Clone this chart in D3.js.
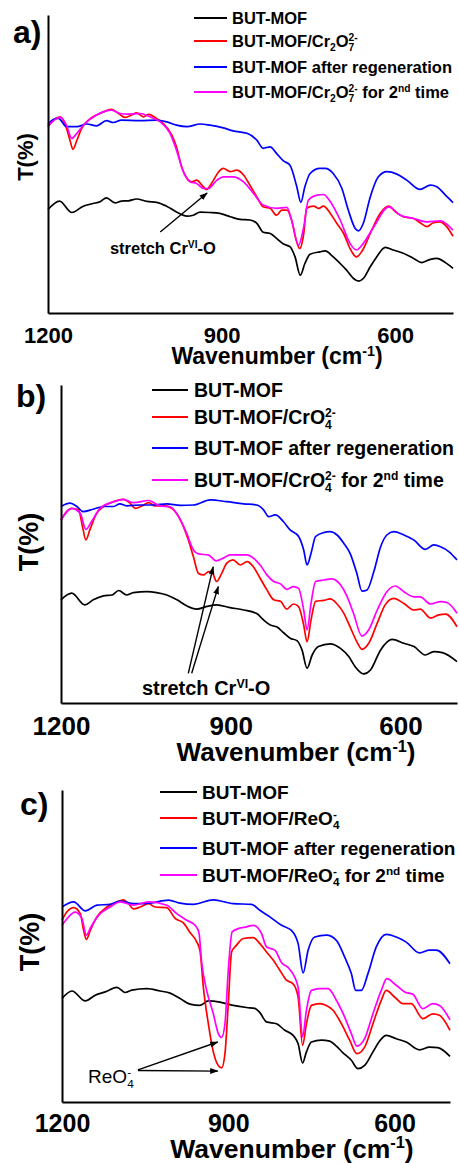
<!DOCTYPE html>
<html>
<head>
<meta charset="utf-8">
<script src="https://cdn.jsdelivr.net/npm/d3@7"></script>
<style>
  body { margin: 0; background: #fff; }
  svg { display: block; }
  text { font-family: "Liberation Sans", Arial, sans-serif; font-weight: bold; fill: #000; }
</style>
</head>
<body>
<svg width="459" height="1163"></svg>
<script>
// tick labels of the wavenumber axis
var wavenumberTicks = [1200, 900, 600];
var seriesColors = ["#000000", "#ff0000", "#0000ff", "#ff00ff"];

// panel a) - Cr2O7(2-)
var aButMof = [[1200,34.5],[1180,37.3],[1159,33.5],[1139,35.6],[1122,36.5],[1110,37.1],[1099,38.4],[1084,36.7],[1073,37.3],[1061,37.4],[1047,38.0],[1029,37.2],[1012,36.9],[995,35.6],[978,33.7],[960,32.3],[949,32.6],[937,33.6],[920,33.5],[903,33.2],[885,32.1],[868,31.2],[851,31.0],[839,29.9],[828,26.9],[816,26.5],[805,24.9],[793,23.0],[782,22.1],[773,18.7],[764,12.6],[756,16.5],[747,19.6],[730,20.4],[721,20.7],[707,18.7],[695,16.5],[684,14.3],[672,11.5],[663,10.6],[655,11.5],[643,15.4],[632,18.7],[617,21.9],[603,21.0],[586,19.9],[568,18.2],[554,16.8],[539,17.9],[528,18.2],[513,16.8],[500,14.9]];
var aLoaded = [[1200,62.1],[1191,64.3],[1179,65.4],[1171,63.2],[1162,57.6],[1157,54.6],[1150,57.6],[1142,61.5],[1130,64.3],[1116,66.0],[1101,67.3],[1090,67.9],[1078,66.5],[1067,65.2],[1055,66.0],[1047,66.7],[1035,65.4],[1026,66.2],[1015,65.2],[1001,63.2],[986,59.3],[978,55.4],[969,48.7],[960,44.9],[952,43.7],[943,44.3],[934,42.6],[926,41.2],[914,44.3],[905,47.1],[897,48.2],[885,47.1],[874,47.6],[862,46.0],[851,42.6],[839,38.7],[828,35.4],[816,34.9],[805,32.6],[796,34.3],[787,34.3],[779,31.0],[771,24.3],[765,21.5],[758,26.5],[753,34.9],[741,35.6],[732,34.9],[724,35.6],[712,33.2],[701,29.9],[689,26.5],[678,21.5],[667,18.7],[658,20.4],[643,26.5],[626,33.2],[611,35.6],[600,33.8],[586,32.1],[568,31.5],[557,30.1],[545,28.8],[534,30.1],[522,30.4],[511,28.8],[500,25.6]];
var aRegen = [[1200,62.9],[1191,64.5],[1182,64.9],[1168,62.1],[1150,62.1],[1133,63.0],[1116,62.4],[1099,64.1],[1087,63.5],[1073,64.3],[1041,64.1],[1012,64.3],[995,63.7],[978,62.6],[960,62.1],[937,63.0],[920,62.6],[897,61.7],[880,60.7],[856,59.9],[839,57.6],[828,54.9],[816,55.4],[805,53.2],[793,50.7],[782,49.3],[770,42.1],[763,36.9],[756,42.1],[747,46.5],[730,48.2],[721,48.2],[707,46.5],[692,41.5],[681,34.3],[669,28.2],[663,27.4],[655,29.9],[643,38.7],[629,45.4],[614,47.1],[597,46.3],[580,44.3],[557,41.2],[539,42.6],[528,42.1],[513,39.3],[500,36.8]];
var aSecond = [[1200,62.3],[1179,65.2],[1168,62.6],[1159,58.2],[1150,59.9],[1139,62.6],[1116,66.0],[1090,67.6],[1075,66.5],[1064,66.3],[1041,66.5],[1024,65.4],[1006,63.7],[989,59.9],[978,54.3],[966,47.1],[954,43.7],[943,43.2],[931,41.5],[923,41.5],[908,44.3],[897,45.4],[880,45.4],[862,43.7],[845,39.9],[828,36.0],[805,34.9],[787,35.2],[779,31.0],[767,22.6],[758,28.7],[750,37.6],[735,39.3],[724,39.5],[712,37.1],[695,31.0],[678,23.2],[667,21.0],[655,23.2],[637,28.7],[611,35.4],[591,32.6],[568,31.5],[545,30.4],[522,30.7],[500,27.6]];

// panel b) - CrO4(2-)
var bButMof = [[1200,34.4],[1181,36.6],[1158,32.7],[1143,34.4],[1125,35.7],[1110,36.0],[1098,37.5],[1084,36.0],[1072,36.8],[1048,37.1],[1031,36.8],[1013,36.0],[995,34.4],[978,32.4],[960,31.3],[942,32.2],[925,32.7],[901,31.8],[877,31.0],[854,29.8],[842,27.7],[830,26.0],[818,25.3],[807,23.5],[795,21.6],[783,20.8],[774,17.7],[765,11.6],[756,16.0],[745,18.8],[724,19.7],[706,18.2],[691,15.4],[680,12.1],[665,9.7],[653,11.0],[635,17.7],[615,21.2],[594,19.9],[576,18.8],[556,16.0],[541,17.1],[526,16.8],[500,13.8]];
var bLoaded = [[1200,61.0],[1190,63.8],[1181,64.9],[1169,64.4],[1162,58.8],[1156,54.4],[1149,57.7],[1137,63.2],[1125,65.5],[1107,67.1],[1090,67.9],[1078,66.6],[1069,64.9],[1057,65.7],[1045,66.8],[1034,65.7],[1016,65.7],[1001,64.4],[986,59.9],[975,54.4],[966,48.8],[957,43.2],[948,42.7],[939,43.8],[932,43.2],[925,40.5],[916,43.2],[907,46.6],[896,47.7],[883,46.0],[871,47.1],[860,45.4],[848,41.6],[836,37.7],[824,34.4],[812,33.9],[801,31.3],[789,33.0],[780,32.1],[771,26.0],[765,20.4],[758,27.7],[750,33.9],[736,34.2],[724,34.7],[712,33.0],[700,29.9],[689,25.4],[677,20.4],[668,17.9],[656,19.9],[641,26.6],[627,32.7],[612,34.9],[594,33.2],[576,31.0],[565,31.3],[547,28.3],[532,29.4],[520,29.6],[500,25.4]];
var bRegen = [[1200,65.5],[1184,66.6],[1172,65.5],[1161,63.8],[1143,64.6],[1125,65.5],[1107,65.5],[1096,66.4],[1084,65.7],[1060,66.0],[1037,66.0],[1013,66.4],[989,65.9],[966,66.0],[936,67.7],[907,67.1],[877,66.4],[854,66.0],[842,64.4],[833,62.1],[821,62.7],[807,60.5],[795,57.7],[780,55.5],[771,51.0],[765,46.0],[758,49.9],[750,55.5],[736,56.8],[724,57.1],[712,56.0],[700,53.2],[689,49.9],[677,43.2],[668,37.3],[659,37.7],[647,43.8],[635,52.1],[624,56.0],[612,57.1],[594,56.0],[576,54.3],[556,51.2],[541,52.7],[529,52.1],[514,50.4],[500,47.7]];
var bSecond = [[1200,61.0],[1181,64.9],[1166,63.2],[1156,57.9],[1146,60.5],[1131,64.9],[1107,67.1],[1090,67.9],[1072,66.8],[1045,67.5],[1025,65.7],[1007,65.4],[992,62.1],[978,56.6],[966,51.0],[957,49.7],[939,49.3],[926,47.4],[913,48.3],[901,49.4],[871,49.4],[860,48.3],[848,46.0],[836,42.7],[824,40.5],[812,39.7],[801,37.9],[789,38.8],[780,38.2],[771,31.0],[765,24.4],[758,33.2],[750,40.5],[736,41.0],[721,41.4],[706,39.4],[694,35.4],[683,29.9],[668,22.3],[656,24.4],[641,31.0],[624,37.1],[609,39.0],[594,37.1],[576,35.4],[565,35.4],[547,33.0],[529,33.8],[517,33.4],[500,29.9]];

// panel c) - ReO4(-)
var cButMof = [[1200,34.5],[1182,37.0],[1158,33.7],[1140,35.6],[1122,36.7],[1101,38.2],[1086,36.5],[1074,37.3],[1047,37.8],[1023,37.0],[1005,36.3],[987,34.5],[969,32.6],[951,32.2],[936,33.7],[915,33.3],[891,32.2],[867,31.5],[852,31.2],[843,29.8],[831,26.7],[813,26.1],[798,23.9],[783,22.2],[774,19.4],[766,13.0],[759,16.7],[750,20.0],[732,20.6],[717,20.3],[705,18.6],[693,16.4],[678,13.9],[666,11.1],[654,12.2],[639,16.7],[627,20.3],[615,22.2],[597,21.1],[579,20.0],[555,17.4],[537,18.3],[522,18.1],[500,15.2]];
var cLoaded = [[1200,60.6],[1191,63.4],[1179,64.8],[1167,62.8],[1161,57.2],[1156,54.2],[1149,57.2],[1137,61.7],[1119,65.0],[1101,66.7],[1089,67.4],[1080,66.1],[1071,64.4],[1059,65.0],[1044,66.1],[1032,65.0],[1011,64.8],[996,61.2],[981,59.7],[969,56.5],[957,53.4],[951,50.4],[945,38.3],[936,26.1],[927,16.7],[920,12.8],[912,11.4],[906,16.1],[900,32.8],[894,50.0],[885,52.3],[873,54.5],[855,54.8],[843,52.8],[831,50.0],[819,47.3],[807,43.9],[795,40.6],[783,39.4],[774,35.0],[766,18.9],[759,26.1],[750,32.2],[735,32.8],[723,32.2],[711,30.6],[696,26.1],[681,20.6],[668,16.1],[654,18.3],[639,26.1],[624,33.9],[615,37.2],[600,35.0],[585,32.8],[570,32.8],[549,27.8],[531,29.4],[519,28.9],[500,23.9]];
var cRegen = [[1200,65.0],[1179,66.7],[1158,63.7],[1137,65.6],[1113,65.9],[1095,67.0],[1071,66.1],[1041,66.3],[1008,67.3],[987,66.3],[963,65.9],[927,67.4],[891,66.1],[858,65.9],[843,63.9],[825,61.7],[804,58.9],[786,57.2],[774,52.8],[765,43.0],[756,50.6],[744,55.0],[723,55.6],[705,53.9],[690,48.3],[678,42.8],[670,37.2],[660,37.2],[648,42.8],[633,51.7],[615,55.9],[597,55.0],[579,53.3],[555,49.7],[537,50.6],[525,50.6],[500,46.1]];
var cSecond = [[1200,58.9],[1191,61.1],[1176,63.3],[1164,61.1],[1156,55.6],[1148,58.3],[1134,62.2],[1113,65.0],[1095,66.7],[1071,65.6],[1044,66.7],[1011,65.6],[993,62.8],[975,60.6],[960,58.9],[953,56.5],[948,46.5],[939,37.2],[927,29.4],[918,22.8],[912,21.5],[906,26.1],[900,43.9],[893,56.7],[882,57.8],[867,58.4],[855,58.9],[840,56.1],[831,51.7],[816,50.6],[804,46.5],[789,44.2],[774,38.3],[766,21.7],[759,30.6],[750,37.2],[735,37.8],[720,37.8],[705,33.9],[690,28.3],[678,22.8],[668,18.6],[654,21.1],[639,29.4],[624,37.2],[614,41.1],[597,38.9],[582,36.7],[567,35.9],[549,31.1],[531,32.8],[519,32.2],[500,27.4]];

// legend labels: [text, kind] where kind is sub / sup / stack (sup over previous sub)
var legendA = [
  [["BUT-MOF"]],
  [["BUT-MOF/Cr"], ["2", "sub"], ["O"], ["7", "sub"], ["2-", "stack"]],
  [["BUT-MOF after regeneration"]],
  [["BUT-MOF/Cr"], ["2", "sub"], ["O"], ["7", "sub"], ["2-", "stack"], [" for 2"], ["nd", "sup"], [" time"]]
];
var legendB = [
  [["BUT-MOF"]],
  [["BUT-MOF/CrO"], ["4", "sub"], ["2-", "stack"]],
  [["BUT-MOF after regeneration"]],
  [["BUT-MOF/CrO"], ["4", "sub"], ["2-", "stack"], [" for 2"], ["nd", "sup"], [" time"]]
];
var legendC = [
  [["BUT-MOF"]],
  [["BUT-MOF/ReO"], ["4", "sub"], ["-", "stack"]],
  [["BUT-MOF after regeneration"]],
  [["BUT-MOF/ReO"], ["4", "sub"], ["-", "stack"], [" for 2"], ["nd", "sup"], [" time"]]
];
var xTitle = [["Wavenumber (cm"], ["-1", "sup"], [")"]];
var crLabel = [["stretch Cr"], ["VI", "sup"], ["-O"]];
var reLabel = [["ReO"], ["4", "sub"], ["-", "stack"]];

var panels = [
  { tag: "a)", tagX: 13, tagY: 43, left: 48, right: 453, top: 15, bottom: 313,
    series: [aButMof, aLoaded, aRegen, aSecond], legend: legendA,
    leg: { x1: 194, x2: 227, tx: 232, rows: [18, 41, 67, 92], fs: 16.5 },
    tickFs: 22, tickDy: 30, titleFs: 23, titleX: 277, titleY: 364, yFs: 22, yX: 33, yY: 157,
    note: { parts: crLabel, at: [1093, 19.7], fs: 16.5, weight: "bold" },
    arrows: [[[1006, 27], [925, 40]]] },
  { tag: "b)", tagX: 16, tagY: 407, left: 61, right: 457, top: 385, bottom: 703,
    series: [bButMof, bLoaded, bRegen, bSecond], legend: legendB,
    leg: { x1: 152, x2: 188, tx: 194, rows: [390, 417, 448, 480], fs: 19.5 },
    tickFs: 26, tickDy: 32, titleFs: 26, titleX: 296, titleY: 761, yFs: 27, yX: 38, yY: 542,
    note: { parts: crLabel, at: [1057, 2.7], fs: 20, weight: "bold" },
    arrows: [[[975, 9.9], [931, 45.4]], [[969, 9.9], [922, 38.8]]] },
  { tag: "c)", tagX: 20, tagY: 815, left: 62, right: 450, top: 790, bottom: 1102,
    series: [cButMof, cLoaded, cRegen, cSecond], legend: legendC,
    leg: { x1: 160, x2: 197, tx: 202, rows: [792, 818, 848, 875], fs: 19 },
    tickFs: 25, tickDy: 30, titleFs: 26.5, titleX: 292, titleY: 1158, yFs: 27, yX: 39, yY: 942,
    note: { parts: reLabel, at: [1153, 6.3], fs: 19, weight: "normal" },
    arrows: [[[1063, 10.7], [919, 20]], [[1063, 10.5], [919, 10.3]]] }
];

var svg = d3.select("svg");

svg.append("defs").append("marker")
    .attr("id", "head")
    .attr("viewBox", "0 0 10 10")
    .attr("refX", 9).attr("refY", 5)
    .attr("markerWidth", 6).attr("markerHeight", 6)
    .attr("markerUnits", "strokeWidth")
    .attr("orient", "auto")
  .append("path")
    .attr("d", "M0,1.5 L10,5 L0,8.5 Z")
    .attr("fill", "#000");

// writes text with sub/superscripts into a <text> element
function rich(textSel, parts, fs) {
    var shift = 0, prev = null, pad = 0;
    parts.forEach(function(p) {
        var kind = p[1], target = 0;
        var t = textSel.append("tspan").text(p[0]);
        if (kind === "sub") target = 0.25 * fs;
        if (kind === "sup" || kind === "stack") target = -0.36 * fs;
        if (kind) t.attr("font-size", 0.62 * fs);
        if (kind === "stack" && prev) {
            var subW = prev.node().getComputedTextLength();
            t.attr("dx", -subW);
            pad = Math.max(0, subW - t.node().getComputedTextLength());
        } else if (pad) {
            // the stacked superscript was narrower than the subscript under it
            t.attr("dx", pad);
            pad = 0;
        }
        if (target !== shift) t.attr("dy", target - shift);
        shift = target;
        prev = t;
    });
}

panels.forEach(function(p) {
    var x = d3.scaleLinear().domain([1200, 500]).range([p.left, p.right]);
    var y = d3.scaleLinear().domain([0, (p.bottom - p.top) / 3]).range([p.bottom, p.top]);
    var g = svg.append("g");

    var line = d3.line()
        .x(function(d) { return x(d[0]); })
        .y(function(d) { return y(d[1]); })
        .curve(d3.curveMonotoneX);

    g.selectAll("path.curve")
        .data(p.series)
        .enter().append("path")
        .attr("class", "curve")
        .attr("d", line)
        .attr("fill", "none")
        .attr("stroke", function(d, i) { return seriesColors[i]; })
        .attr("stroke-width", 1.7)
        .attr("stroke-linejoin", "round");

    // axes
    var xAxis = g.append("g")
        .attr("transform", "translate(0," + p.bottom + ")")
        .call(d3.axisBottom(x).tickValues(wavenumberTicks).tickSize(0).tickSizeOuter(0).tickFormat(d3.format("d")));
    xAxis.select(".domain").attr("stroke-width", 2);
    xAxis.selectAll(".tick text")
        .attr("y", p.tickDy).attr("dy", 0)
        .attr("font-size", p.tickFs)
        .attr("font-family", "Liberation Sans, Arial, sans-serif")
        .attr("font-weight", "bold");

    var yAxis = g.append("g")
        .attr("transform", "translate(" + p.left + ",0)")
        .call(d3.axisLeft(y).tickValues([]).tickSizeOuter(0));
    yAxis.select(".domain").attr("stroke-width", 2);

    var title = g.append("text")
        .attr("x", p.titleX).attr("y", p.titleY)
        .attr("text-anchor", "middle")
        .attr("font-size", p.titleFs);
    rich(title, xTitle, p.titleFs);

    g.append("text")
        .attr("transform", "translate(" + p.yX + "," + p.yY + ") rotate(-90)")
        .attr("text-anchor", "middle")
        .attr("font-size", p.yFs)
        .text("T(%)");

    g.append("text")
        .attr("x", p.tagX).attr("y", p.tagY)
        .attr("font-size", 32)
        .text(p.tag);

    // legend
    p.legend.forEach(function(parts, i) {
        var ry = p.leg.rows[i];
        g.append("line")
            .attr("x1", p.leg.x1).attr("x2", p.leg.x2)
            .attr("y1", ry).attr("y2", ry)
            .attr("stroke", seriesColors[i])
            .attr("stroke-width", 1.8);
        var t = g.append("text")
            .attr("x", p.leg.tx).attr("y", ry + 0.35 * p.leg.fs)
            .attr("font-size", p.leg.fs);
        rich(t, parts, p.leg.fs);
    });

    // annotation
    var note = g.append("text")
        .attr("x", x(p.note.at[0])).attr("y", y(p.note.at[1]))
        .attr("font-size", p.note.fs)
        .style("font-weight", p.note.weight);
    rich(note, p.note.parts, p.note.fs);

    p.arrows.forEach(function(a) {
        g.append("line")
            .attr("x1", x(a[0][0])).attr("y1", y(a[0][1]))
            .attr("x2", x(a[1][0])).attr("y2", y(a[1][1]))
            .attr("stroke", "#000")
            .attr("stroke-width", 1.4)
            .attr("marker-end", "url(#head)");
    });
});
</script>
</body>
</html>
